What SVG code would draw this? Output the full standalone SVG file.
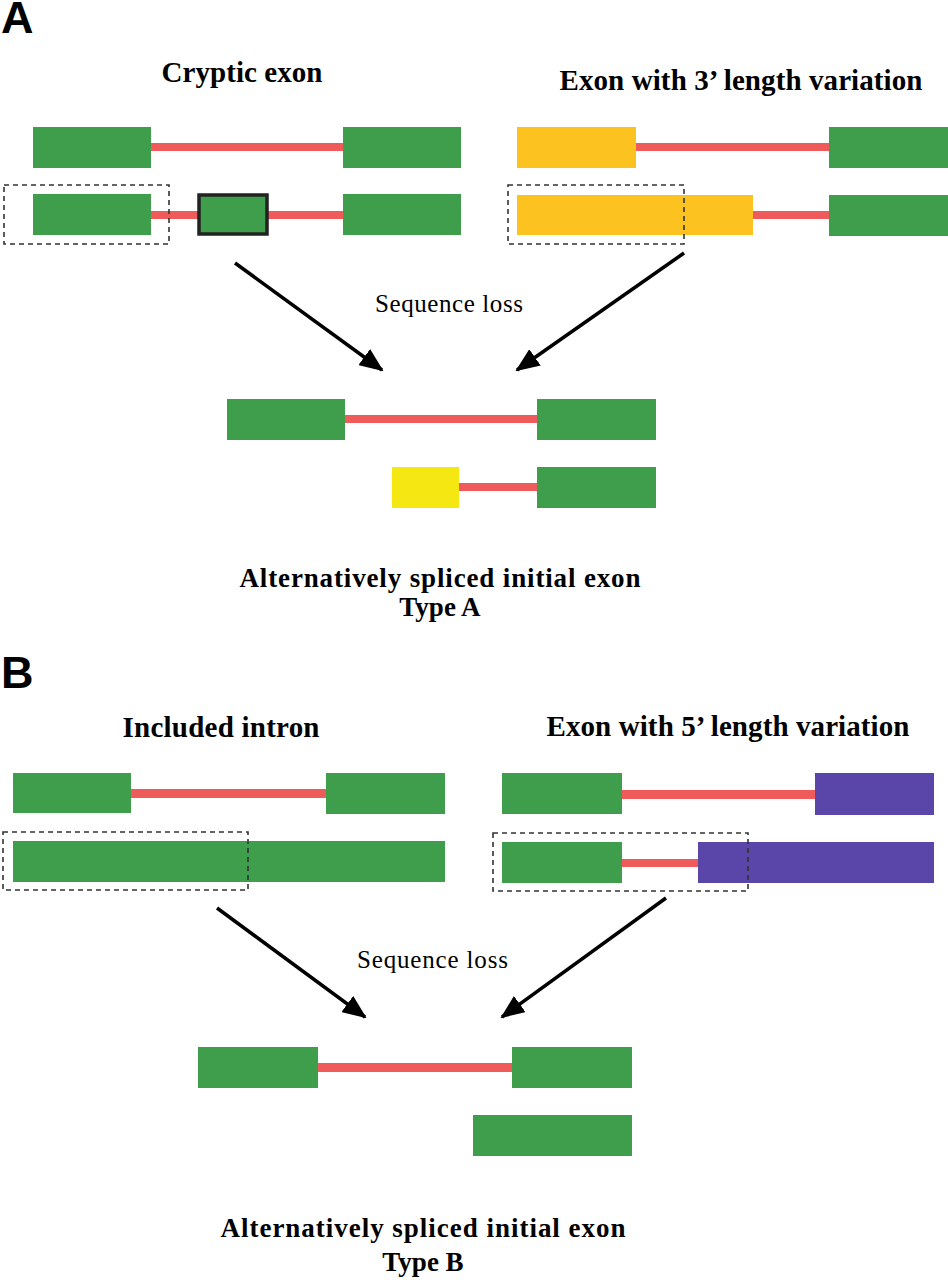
<svg xmlns="http://www.w3.org/2000/svg" width="948" height="1280" viewBox="0 0 948 1280">
<defs>
<style>
.ex{fill:#3f9e4c}
.or{fill:#fcc21f}
.ye{fill:#f5e812}
.pu{fill:#5a46a8}
.in{fill:#ef5a5a}
.dash{fill:none;stroke:#333;stroke-width:1.6;stroke-dasharray:5 4}
.lbl{font-family:"Liberation Sans",Arial,sans-serif;font-weight:bold;font-size:45px;fill:#000}
.ttl{font-family:"Liberation Serif","Times New Roman",serif;font-weight:bold;font-size:29px;fill:#000}
.cap{font-family:"Liberation Serif","Times New Roman",serif;font-weight:bold;font-size:27px;fill:#000}
.seq{font-family:"Liberation Serif","Times New Roman",serif;font-size:25px;fill:#000}
.arr{stroke:#000;stroke-width:3.5;fill:none;marker-end:url(#ah)}
</style>
<marker id="ah" markerUnits="userSpaceOnUse" markerWidth="24" markerHeight="20" viewBox="0 0 24 20" refX="22" refY="10" orient="auto">
<path d="M0,0 L24,10 L0,20 Z" fill="#000"/>
</marker>
</defs>
<rect width="948" height="1280" fill="#fff"/>

<g id="panelA-label"><text class="lbl" x="1" y="33">A</text></g>
<g id="title-cryptic"><text class="ttl" x="242" y="82" text-anchor="middle" textLength="161">Cryptic exon</text></g>
<g id="title-3prime"><text class="ttl" x="741" y="90" text-anchor="middle" textLength="363">Exon with 3’ length variation</text></g>

<g id="cryptic-row1">
<rect class="in" x="150" y="143" width="194" height="8"/>
<rect class="ex" x="33" y="127" width="118" height="41"/>
<rect class="ex" x="343" y="127" width="118" height="41"/>
</g>
<g id="cryptic-row2">
<rect class="in" x="150" y="211" width="194" height="8"/>
<rect class="ex" x="33" y="194" width="118" height="41"/>
<rect class="ex" x="199" y="195" width="68" height="39" stroke="#222" stroke-width="3.5"/>
<rect class="ex" x="343" y="194" width="118" height="41"/>
<rect class="dash" x="4" y="185" width="165" height="59"/>
</g>
<g id="var3-row1">
<rect class="in" x="635" y="143" width="195" height="8"/>
<rect class="or" x="517" y="127" width="119" height="41"/>
<rect class="ex" x="829" y="127" width="119" height="41"/>
</g>
<g id="var3-row2">
<rect class="in" x="752" y="211" width="78" height="8"/>
<rect class="or" x="517" y="195" width="236" height="40"/>
<rect class="ex" x="829" y="195" width="119" height="41"/>
<rect class="dash" x="508" y="185" width="176" height="59"/>
</g>

<g id="seqloss-A"><text class="seq" x="375" y="312" textLength="148">Sequence loss</text></g>

<g id="resultA-row1">
<rect class="in" x="344" y="415" width="194" height="8"/>
<rect class="ex" x="227" y="399" width="118" height="41"/>
<rect class="ex" x="537" y="399" width="119" height="41"/>
</g>
<g id="resultA-row2">
<rect class="in" x="458" y="483" width="80" height="8"/>
<rect class="ye" x="392" y="467" width="67" height="41"/>
<rect class="ex" x="537" y="467" width="119" height="41"/>
</g>
<g id="caption-A">
<text class="cap" x="440" y="587" text-anchor="middle" textLength="401">Alternatively spliced initial exon</text>
<text class="cap" x="440" y="616" text-anchor="middle">Type A</text>
</g>

<g id="panelB-label"><text class="lbl" x="1" y="688">B</text></g>
<g id="title-intron"><text class="ttl" x="221" y="737" text-anchor="middle" textLength="197">Included intron</text></g>
<g id="title-5prime"><text class="ttl" x="728" y="736" text-anchor="middle" textLength="363">Exon with 5’ length variation</text></g>

<g id="intron-row1">
<rect class="in" x="130" y="789" width="197" height="9"/>
<rect class="ex" x="13" y="773" width="118" height="40"/>
<rect class="ex" x="326" y="773" width="119" height="41"/>
</g>
<g id="intron-row2">
<rect class="ex" x="13" y="841" width="432" height="41"/>
<rect class="dash" x="3" y="832" width="245" height="58"/>
</g>
<g id="var5-row1">
<rect class="in" x="621" y="790" width="195" height="9"/>
<rect class="ex" x="502" y="773" width="120" height="41"/>
<rect class="pu" x="815" y="773" width="119" height="42"/>
</g>
<g id="var5-row2">
<rect class="in" x="621" y="859" width="78" height="8"/>
<rect class="ex" x="502" y="842" width="120" height="41"/>
<rect class="pu" x="698" y="842" width="236" height="41"/>
<rect class="dash" x="493" y="833" width="255" height="58"/>
</g>

<g id="seqloss-B"><text class="seq" x="357" y="968" textLength="151">Sequence loss</text></g>

<g id="resultB-row1">
<rect class="in" x="317" y="1063" width="196" height="9"/>
<rect class="ex" x="198" y="1047" width="120" height="41"/>
<rect class="ex" x="512" y="1047" width="120" height="41"/>
</g>
<g id="resultB-row2">
<rect class="ex" x="473" y="1115" width="159" height="41"/>
</g>
<g id="caption-B">
<text class="cap" x="423" y="1237" text-anchor="middle" textLength="405">Alternatively spliced initial exon</text>
<text class="cap" x="423" y="1271" text-anchor="middle">Type B</text>
</g>

<g id="connectors">
<line class="arr" x1="235" y1="263" x2="382" y2="370"/>
<line class="arr" x1="684" y1="253" x2="517" y2="370"/>
<line class="arr" x1="217" y1="908" x2="365" y2="1017"/>
<line class="arr" x1="666" y1="898" x2="502" y2="1017"/>
</g>
</svg>
